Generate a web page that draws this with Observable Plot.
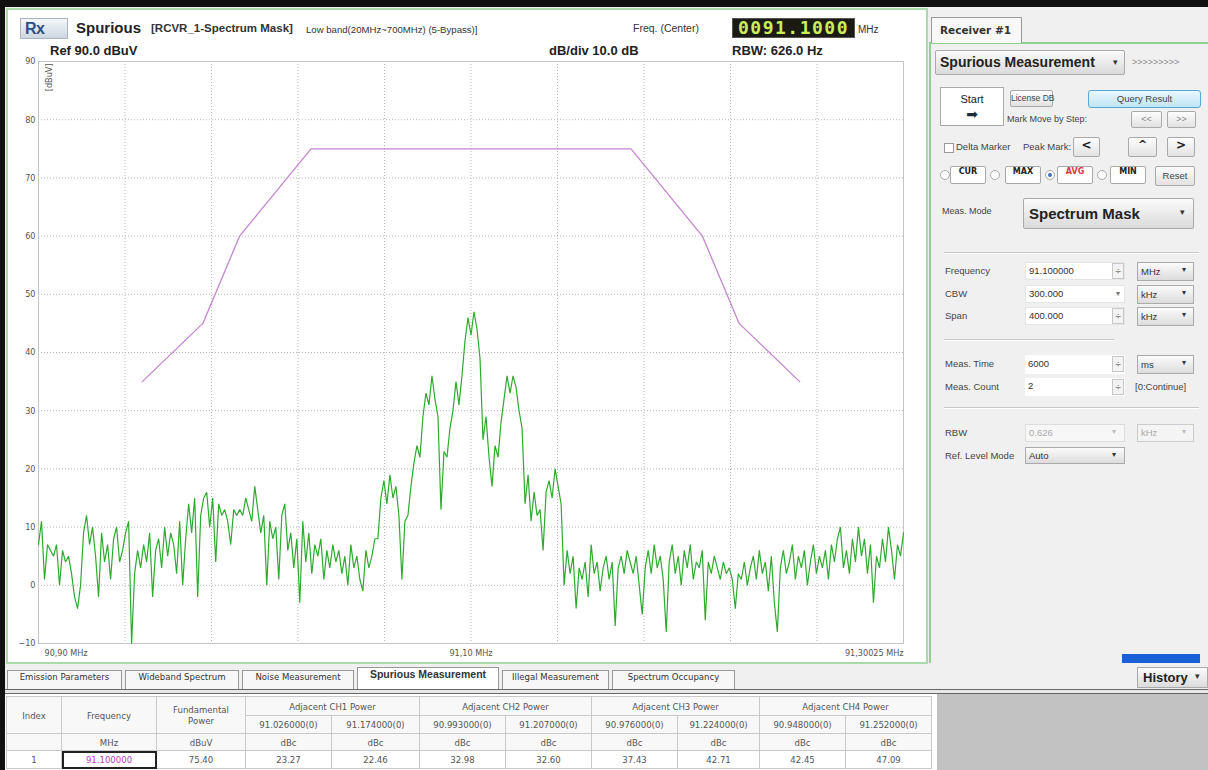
<!DOCTYPE html>
<html><head><meta charset="utf-8">
<script src="https://cdn.jsdelivr.net/npm/d3@7"></script>
<script src="https://cdn.jsdelivr.net/npm/@observablehq/plot@0.6"></script>
<style>
*{box-sizing:border-box;}
body{margin:0;width:1208px;height:770px;overflow:hidden;background:#f0f0f0;position:relative;font-family:"Liberation Sans",Arial,sans-serif;color:#333;}
.a{position:absolute;white-space:nowrap;}
.btn{background:linear-gradient(#fdfdfd,#e2e2e2);border:1px solid #a9a9a9;border-radius:2px;text-align:center;}
table.t{position:absolute;left:6px;top:696px;border-collapse:collapse;table-layout:fixed;}
table.t td{border:1px solid #c9c9c9;text-align:center;font-family:"DejaVu Sans Condensed","Liberation Sans",sans-serif;font-size:9.5px;color:#555;padding:0;overflow:hidden;white-space:nowrap;line-height:11px;}
</style></head><body>
<script>
// ---------- data ----------
const freqStart = 90.90, freqStop = 91.30;
const traceDbuv = [
 7,11,1,7,6,5,7,0,6,4,
 5,2,-2,-4,0,9,12,7,10,5,
 -2,9,4,7,1,8,10,4,6,9,
 11,-10,2,6,3,7,4,9,-2,6,
 8,3,10,5,9,7,2,11,0,8,
 14,9,15,-2,12,15,16,10,15,4,
 14,12,13,11,7,13,12,13,12,15,
 13,11,17,13,9,12,0,11,8,10,
 1,12,14,6,9,3,8,-3,11,4,
 9,2,7,5,8,1,6,3,7,4,
 6,2,5,0,7,3,5,1,-1,6,
 3,5,8,8,15,18,14,19,15,17,
 12,1,11,12,17,21,24,22,29,33,
 31,36,32,29,13,23,22,27,30,35,
 31,36,42,46,43,47,44,39,25,29,
 22,17,24,22,28,32,36,33,36,34,
 30,27,14,19,11,16,12,13,6,16,
 18,15,20,17,14,0,6,2,5,-4,
 3,1,4,-2,7,2,4,-1,3,5,
 1,4,-7,3,5,2,6,4,2,5,
 0,-5,3,6,2,7,3,5,1,-8,
 4,7,2,5,0,6,3,7,1,4,
 3,6,-6,4,2,5,3,1,4,2,
 3,1,-4,2,1,4,0,3,5,1,
 6,2,4,-1,5,-3,-8,3,6,2,
 4,7,1,5,3,6,0,4,7,2,
 5,3,6,1,7,4,8,10,3,6,
 2,8,4,10,5,8,2,7,-3,5,
 3,8,4,10,6,1,7,5,9
];
const maskFreq = [90.948, 90.976, 90.993, 91.026, 91.174, 91.207, 91.224, 91.252];
const maskDbuv = [35, 45, 60, 75, 75, 60, 45, 35];
const yTicks = [-10, 0, 10, 20, 30, 40, 50, 60, 70, 80, 90];
const xGrid = [90.90, 90.94, 90.98, 91.02, 91.06, 91.10, 91.14, 91.18, 91.22, 91.26, 91.30];
const xTickValues = [90.90, 91.10, 91.30];
const xTickLabels = ["90,90 MHz", "91,10 MHz", "91,30025 MHz"];

const tabNames = ["Emission Parameters", "Wideband Spectrum", "Noise Measurement", "Spurious Measurement", "Illegal Measurement", "Spectrum Occupancy"];
const groupHeaders = ["Adjacent CH1 Power", "Adjacent CH2 Power", "Adjacent CH3 Power", "Adjacent CH4 Power"];
const subFreqs = ["91.026000(0)", "91.174000(0)", "90.993000(0)", "91.207000(0)", "90.976000(0)", "91.224000(0)", "90.948000(0)", "91.252000(0)"];
const unitRow = ["", "MHz", "dBuV", "dBc", "dBc", "dBc", "dBc", "dBc", "dBc", "dBc", "dBc"];
const dataRow = ["1", "91.100000", "75.40", "23.27", "22.46", "32.98", "32.60", "37.43", "42.71", "42.45", "47.09"];

// ---------- helpers ----------
function box(x, y, w, h, css, txt) {
  const d = document.createElement("div");
  d.className = "a";
  d.style.cssText = `left:${x}px;top:${y}px;` + (w != null ? `width:${w}px;` : "") + (h != null ? `height:${h}px;` : "") + (css || "");
  if (txt != null) d.textContent = txt;
  document.body.appendChild(d);
  return d;
}
function btn(x, y, w, h, txt, css) {
  const d = box(x, y, w, h, `line-height:${h - 2}px;font-size:9px;color:#444;` + (css || ""), txt);
  d.classList.add("btn");
  return d;
}

// ---------- frame / panels ----------
box(6, 8, 922, 656, "background:#fff;border:2px solid #a9dba9;");
box(0, 0, 1208, 7, "background:#111;");
box(0, 0, 5, 770, "background:#111;");

// header of the chart panel
box(20, 18, 48, 21, 'background:linear-gradient(#f4f7fa,#cdd6e1);border:1px solid #aab4c2;font:bold 16px "Liberation Sans";color:#2d4f86;line-height:19px;padding-left:4px;letter-spacing:-0.5px;', "Rx");
box(76, 19, null, null, 'font:bold 15px "Liberation Sans";color:#222;', "Spurious");
box(151, 22, null, null, 'font:bold 11.5px "Liberation Sans";color:#333;', "[RCVR_1-Spectrum Mask]");
box(306, 24, null, null, 'font:9.6px "Liberation Sans";color:#333;', "Low band(20MHz~700MHz) (5-Bypass)]");
box(633, 22, null, null, 'font:10.5px "Liberation Sans";color:#333;', "Freq. (Center)");
box(732, 18, 123, 20, 'background:#1b1b14;border:1px solid #555;font:bold 18px "DejaVu Sans Mono",monospace;color:#c9ef5a;line-height:18px;text-align:center;letter-spacing:1.5px;', "0091.1000");
box(858, 24, null, null, 'font:10px "Liberation Sans";color:#333;', "MHz");
box(50, 43, null, null, 'font:bold 13px "Liberation Sans";color:#222;', "Ref 90.0 dBuV");
box(549, 43, null, null, 'font:bold 13px "Liberation Sans";color:#222;', "dB/div 10.0 dB");
box(732, 43, null, null, 'font:bold 13px "Liberation Sans";color:#222;', "RBW: 626.0 Hz");

// ---------- chart ----------
const step = (freqStop - freqStart) / (traceDbuv.length - 1);
const traceData = traceDbuv.map((v, i) => ({f: freqStart + i * step, v}));
const maskData = maskFreq.map((f, i) => ({f, v: maskDbuv[i]}));
const anchors = ["start", "middle", "end"];
const chart = Plot.plot({
  width: 917, height: 615,
  marginLeft: 30, marginRight: 22, marginTop: 11, marginBottom: 22,
  x: {domain: [freqStart, freqStop], axis: null},
  y: {domain: [-10, 90]},
  style: {background: "transparent", overflow: "visible", fontFamily: '"DejaVu Sans Condensed","Liberation Sans",sans-serif', fontSize: "9px", color: "#555"},
  marks: [
    Plot.gridX(xGrid, {stroke: "#b8b8b8", strokeOpacity: 1, strokeDasharray: "1,2"}),
    Plot.gridY(yTicks, {stroke: "#b8b8b8", strokeOpacity: 1, strokeDasharray: "1,2"}),
    Plot.frame({stroke: "#c4c4c4"}),
    Plot.axisY(yTicks, {tickSize: 0, tickPadding: 3, label: null}),
    Plot.line(maskData, {x: "f", y: "v", stroke: "#c486d0", strokeWidth: 1.3}),
    Plot.line(traceData, {x: "f", y: "v", stroke: "#2eaa2e", strokeWidth: 1.2, strokeLinejoin: "miter"}),
    ...xTickValues.map((t, i) => Plot.text([xTickLabels[i]], {x: [t], y: [-10], text: d => d, textAnchor: anchors[i], dy: 10, dx: i === 0 ? 6 : 0, fill: "#555", fontSize: 9})),
    Plot.text(["[dBuV]"], {frameAnchor: "top-left", text: d => d, rotate: -90, textAnchor: "end", dx: 7, dy: 2, fill: "#555", fontSize: 9})
  ]
});
const holder = box(8, 50, 917, 615, "");
holder.appendChild(chart);

// ---------- right panel ----------
box(929, 42, 279, 621, "background:#f0f0f0;border-left:2px solid #8fcf8f;border-top:2px solid #8fcf8f;");
box(931, 17, 91, 26, 'background:#f8f8f8;border:1px solid #999;border-bottom:none;font:bold 10.5px "DejaVu Sans";color:#333;line-height:24px;padding-left:8px;', "Receiver #1");
box(935, 50, 190, 25, 'background:linear-gradient(#fbfbfb,#dadada);border:1px solid #aaa;border-radius:2px;font:bold 14px "Liberation Sans";color:#222;line-height:23px;padding-left:4px;', "Spurious Measurement");
box(1113, 57, null, null, 'font:9px "DejaVu Sans";color:#333;', "▾");
box(1132, 57, null, null, 'font:9px "Liberation Sans";color:#888;', ">>>>>>>>>");
box(940, 87, 64, 39, "background:#fff;border:1px solid #aaa;");
box(940, 93, 64, null, 'font:11px "Liberation Sans";color:#222;text-align:center;', "Start");
box(940, 106, 64, null, 'font:14px "DejaVu Sans";color:#1d2a3a;text-align:center;', "➡");
btn(1010, 90, 43, 17, "License DB", "font-size:8.5px;");
btn(1088, 90, 113, 18, "Query Result", "background:linear-gradient(#e9f7fd,#bfe5f7);border:1px solid #58a6d6;border-radius:3px;font-size:9.5px;");
box(1007, 114, null, null, 'font:9px "Liberation Sans";color:#444;', "Mark Move by Step:");
btn(1131, 111, 31, 17, "<<", "color:#888;");
btn(1167, 111, 29, 17, ">>", "color:#888;");
box(944, 143, 10, 10, "background:#fff;border:1px solid #999;");
box(956, 141, null, null, 'font:9.5px "Liberation Sans";color:#444;', "Delta Marker");
box(1023, 141, null, null, 'font:9.5px "Liberation Sans";color:#444;', "Peak Mark:");
btn(1073, 137, 27, 20, "<", 'font:bold 12px "DejaVu Sans";color:#222;');
btn(1128, 137, 29, 20, "^", 'font:bold 11px "DejaVu Sans";color:#222;');
btn(1167, 137, 28, 20, ">", 'font:bold 12px "DejaVu Sans";color:#222;');
const radios = [940, 990, 1045, 1097];
const modeBtns = [["CUR", 950], ["MAX", 1005], ["AVG", 1057], ["MIN", 1110]];
radios.forEach((x, i) => {
  box(x, 170, 10, 10, "background:#fff;border:1px solid #aaa;border-radius:50%;");
  if (i === 2) box(x + 3, 173, 4, 4, "background:#3a6fc4;border-radius:50%;");
});
modeBtns.forEach(([t, x]) => btn(x, 166, 36, 18, t, 'font:bold 8px "DejaVu Sans";background:#fff;' + (t === "AVG" ? "color:#d8383f;" : "color:#222;")));
btn(1155, 166, 40, 20, "Reset", "font-size:9.5px;");
box(942, 206, null, null, 'font:9px "Liberation Sans";color:#444;', "Meas. Mode");
box(1023, 198, 171, 31, 'background:linear-gradient(#fbfbfb,#dadada);border:1px solid #aaa;border-radius:2px;font:bold 15px "Liberation Sans";color:#222;line-height:29px;padding-left:5px;', "Spectrum Mask");
box(1180, 207, null, null, 'font:9px "DejaVu Sans";color:#333;', "▾");
box(944, 252, 255, 2, "border-top:1px solid #c8c8c8;border-bottom:1px solid #fff;");
const rowsR = [["Frequency", 262, "91.100000", "MHz", true], ["CBW", 285, "300.000", "kHz", false], ["Span", 307, "400.000", "kHz", true]];
rowsR.forEach(([lab, y, val, unit, spin]) => {
  box(945, y + 3, null, null, 'font:9.5px "Liberation Sans";color:#444;', lab);
  box(1025, y, 100, 18, 'background:#fff;border:1px solid #e4e4e4;font:9.5px "Liberation Sans";color:#333;line-height:16px;padding-left:3px;', val);
  box(1112, y + 1, 12, 16, 'font:8px "DejaVu Sans";color:#777;text-align:center;line-height:15px;' + (spin ? "border:1px solid #c8c8c8;background:#f3f3f3;" : ""), spin ? "÷" : "▾");
  box(1137, y, 57, 19, 'background:linear-gradient(#fbfbfb,#dcdcdc);border:1px solid #aaa;font:9.5px "Liberation Sans";color:#333;line-height:17px;padding-left:3px;', unit);
  box(1182, y + 3, null, null, 'font:8px "DejaVu Sans";color:#333;', "▾");
});
box(944, 339, 170, 2, "border-top:1px solid #c8c8c8;border-bottom:1px solid #fff;");
box(945, 358, null, null, 'font:9.5px "Liberation Sans";color:#444;', "Meas. Time");
box(1025, 355, 100, 19, 'background:#fff;font:9.5px "Liberation Sans";color:#333;line-height:17px;padding-left:3px;', "6000");
box(1112, 356, 12, 16, 'font:8px "DejaVu Sans";color:#777;text-align:center;line-height:15px;border:1px solid #c8c8c8;background:#f3f3f3;', "÷");
box(1137, 355, 57, 19, 'background:linear-gradient(#fbfbfb,#dcdcdc);border:1px solid #aaa;font:9.5px "Liberation Sans";color:#333;line-height:17px;padding-left:3px;', "ms");
box(1182, 358, null, null, 'font:8px "DejaVu Sans";color:#333;', "▾");
box(945, 381, null, null, 'font:9.5px "Liberation Sans";color:#444;', "Meas. Count");
box(1025, 378, 100, 18, 'background:#fff;font:9.5px "Liberation Sans";color:#333;line-height:16px;padding-left:3px;', "2");
box(1112, 379, 12, 16, 'font:8px "DejaVu Sans";color:#777;text-align:center;line-height:15px;border:1px solid #c8c8c8;background:#f3f3f3;', "÷");
box(1135, 381, null, null, 'font:9.5px "Liberation Sans";color:#444;', "[0:Continue]");
box(944, 407, 255, 2, "border-top:1px solid #c8c8c8;border-bottom:1px solid #fff;");
box(945, 427, null, null, 'font:9.5px "Liberation Sans";color:#444;', "RBW");
box(1025, 424, 100, 18, 'background:#f7f7f7;border:1px solid #ddd;font:9.5px "Liberation Sans";color:#aaa;line-height:16px;padding-left:3px;', "0.626");
box(1112, 427, null, null, 'font:8px "DejaVu Sans";color:#bbb;', "▾");
box(1137, 424, 57, 18, 'background:#f4f4f4;border:1px solid #ccc;font:9.5px "Liberation Sans";color:#aaa;line-height:16px;padding-left:3px;', "kHz");
box(1182, 427, null, null, 'font:8px "DejaVu Sans";color:#bbb;', "▾");
box(945, 450, null, null, 'font:9.5px "Liberation Sans";color:#444;', "Ref. Level Mode");
box(1025, 447, 100, 17, 'background:linear-gradient(#fbfbfb,#dcdcdc);border:1px solid #aaa;font:9.5px "Liberation Sans";color:#333;line-height:15px;padding-left:3px;', "Auto");
box(1112, 450, null, null, 'font:8px "DejaVu Sans";color:#333;', "▾");
box(1122, 654, 78, 9, "background:#1a5fd6;");

// ---------- bottom tabs ----------
const tabX = [[7, 122], [125, 239], [242, 354], [357, 499], [502, 609], [612, 735]];
tabNames.forEach((t, i) => {
  const [x0, x1] = tabX[i];
  const act = i === 3;
  box(x0, act ? 667 : 670, x1 - x0, act ? 23 : 20, `background:${act ? "#fff" : "#f7f7f7"};border:1px solid #999;border-bottom:none;text-align:center;line-height:${act ? 21 : 19}px;font:${act ? "bold 10.5px \"Liberation Sans\"" : "9.5px \"DejaVu Sans Condensed\",sans-serif"};color:#333;`, t);
});
box(1137, 667, 71, 21, 'background:linear-gradient(#fafafa,#dcdcdc);border:1px solid #aaa;font:bold 13px "Liberation Sans";color:#222;line-height:19px;padding-left:5px;', "History");
box(1195, 671, null, null, 'font:9px "DejaVu Sans";color:#333;', "▾");
box(5, 689, 1203, 5, "border-top:1px solid #666;border-bottom:1px solid #666;background:#e8e8e8;");
box(5, 694, 1203, 76, "background:#fff;");
box(937, 694, 271, 76, "background:#c2c2c2;");

// ---------- table ----------
const colW = [55, 95, 89, 86, 88, 86, 86, 86, 82, 86, 86];
const tbl = document.createElement("table");
tbl.className = "t";
const cg = document.createElement("colgroup");
colW.forEach(w => { const c = document.createElement("col"); c.style.width = w + "px"; cg.appendChild(c); });
tbl.appendChild(cg);
tbl.style.width = colW.reduce((a, b) => a + b, 0) + "px";
function tr(h) { const r = document.createElement("tr"); r.style.height = h + "px"; tbl.appendChild(r); return r; }
function td(r, txt, opts = {}) { const c = document.createElement("td"); c.textContent = txt; if (opts.rs) c.rowSpan = opts.rs; if (opts.cs) c.colSpan = opts.cs; if (opts.css) c.style.cssText += opts.css; r.appendChild(c); return c; }
const hbg = "background:#f8f8f8;";
const r1 = tr(19);
td(r1, "Index", {rs: 2, css: hbg});
td(r1, "Frequency", {rs: 2, css: hbg});
const fp = td(r1, "", {rs: 2, css: hbg});
fp.innerHTML = "Fundamental<br>Power";
groupHeaders.forEach(g => td(r1, g, {cs: 2, css: hbg}));
const r2 = tr(18);
subFreqs.forEach(s => td(r2, s, {css: hbg}));
const r3 = tr(17);
unitRow.forEach(u => td(r3, u, {css: hbg}));
const r4 = tr(18);
dataRow.forEach((v, i) => td(r4, v, {css: i === 1 ? "color:#c03cc0;outline:2px solid #222;outline-offset:-2px;" : ""}));
document.body.appendChild(tbl);
</script>
</body></html>
